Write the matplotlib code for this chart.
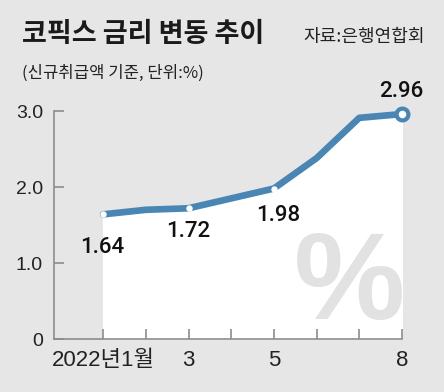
import matplotlib
matplotlib.use("Agg")
import matplotlib.pyplot as plt

months = [1, 2, 3, 4, 5, 6, 7, 8]
rates = [1.64, 1.70, 1.72, 1.85, 1.98, 2.38, 2.91, 2.96]
labeled = {1: "1.64", 3: "1.72", 5: "1.98", 8: "2.96"}
yticks = [0, 1.0, 2.0, 3.0]
ytick_labels = ["0", "1.0", "2.0", "3.0"]
xticks = [1, 3, 5, 8]
xtick_labels = ["2022년1월", "3", "5", "8"]
minor_xticks = [2, 4, 6, 7]

num_font = "Liberation Sans"
kr = ["Noto Sans CJK KR", "DejaVu Sans"]

bg = "#e6e6e6"
blue = "#4a86b3"
grey = "#8c8c8c"

fig = plt.figure(figsize=(4.44, 3.92), dpi=100)
fig.patch.set_facecolor(bg)
ax = fig.add_axes([54 / 444, 1 - 339 / 392, (402 - 54) / 444, (339 - 111) / 392])
ax.set_facecolor(bg)

ax.set_xlim(-0.15, 8)
ax.set_ylim(0, 3.0)

# white area under the line
ax.fill_between(months, rates, 0, color="white", zorder=1)
# big % watermark
ax.text(6.78, 0.86, "%", fontsize=90, fontweight="bold", color="#e2e2e2",
        ha="center", va="center_baseline", family="Liberation Sans", zorder=2)

ax.plot(months, rates, color=blue, lw=4.8, solid_capstyle="round",
        solid_joinstyle="round", zorder=3, clip_on=False)
ax.plot([1, 3, 5], [rates[0], rates[2], rates[4]], "o", ms=3.6, mfc="white",
        mec="white", zorder=4)
ax.plot([8], [rates[-1]], "o", ms=8.5, mfc="white", mec=blue, mew=3,
        zorder=5, clip_on=False)

offsets = {1: (-0.02, -0.44), 3: (-0.01, -0.31), 5: (0.1, -0.35), 8: (-0.02, 0.30)}
for m, txt in labeled.items():
    dx, dy = offsets[m]
    ax.text(m + dx, rates[m - 1] + dy, txt, fontsize=16, color="#111111",
            ha="center", va="center", family="Roboto", fontweight="medium")

for s in ["top", "right"]:
    ax.spines[s].set_visible(False)
for s in ["left", "bottom"]:
    ax.spines[s].set_color(grey)
    ax.spines[s].set_linewidth(1.2)

ax.set_yticks(yticks)
ax.set_yticklabels(ytick_labels, family=num_font, fontsize=14, color="#222222")
ax.set_xticks(xticks)
ax.set_xticklabels(xtick_labels, fontsize=16, color="#222222",
                   family=[num_font, "Noto Sans CJK KR"])
ax.set_xticks(minor_xticks, minor=True)
ax.tick_params(axis="both", which="both", direction="in", color=grey, width=1.2, length=7)
ax.tick_params(axis="y", pad=8)
ax.tick_params(axis="x", pad=8)

fig.text(22 / 444, 1 - 34 / 392, "코픽스 금리 변동 추이", fontsize=19.5, fontweight="bold",
         family=kr, color="#1a1a1a", va="center")
fig.text(425 / 444, 1 - 37 / 392, "자료:은행연합회", fontsize=13, family=kr,
         color="#222222", va="center", ha="right")
fig.text(22 / 444, 1 - 73 / 392, "(신규취급액 기준, 단위:%)", fontsize=12, family=kr,
         color="#222222", va="center")

fig.savefig("out.png", dpi=100, facecolor=bg)
